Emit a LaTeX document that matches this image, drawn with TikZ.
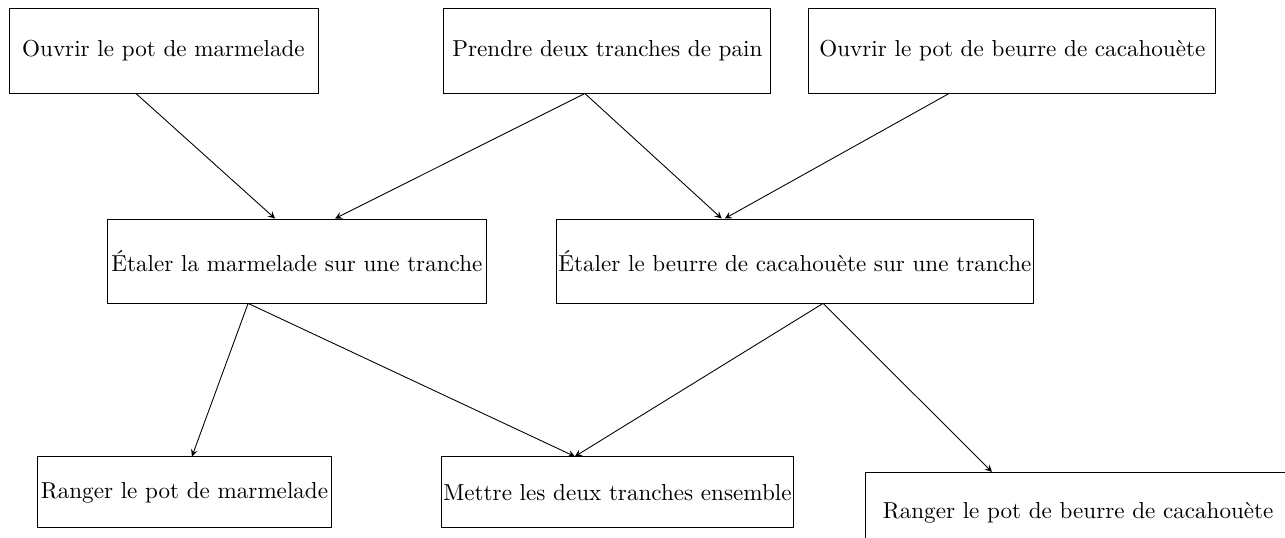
\documentclass[tikz,border=0pt]{standalone}
\usepackage{tikz}
\usetikzlibrary{arrows}

\tikzset{etape/.style={draw, rectangle, inner sep=0.8pt, minimum height=1.358cm, font=\fontsize{10.5pt}{12.6pt}\selectfont}}

\begin{document}
\begin{tikzpicture}
\useasboundingbox (0,0) rectangle (20.53,-8.594);

\node[etape, minimum width=4.936cm] (ouvrirM) at (2.612,-0.807) {Ouvrir le pot de marmelade};
\node[etape, minimum width=5.224cm] (pain) at (9.704,-0.807) {Prendre deux tranches de pain};
\node[etape, minimum width=6.502cm] (ouvrirB) at (16.174,-0.807) {Ouvrir le pot de beurre de cacahouète};

\node[etape, minimum width=6.07cm, minimum height=1.342cm] (etalerM) at (4.744,-4.169) {Étaler la marmelade sur une tranche};
\node[etape, minimum width=7.636cm, minimum height=1.342cm] (etalerB) at (12.70,-4.169) {Étaler le beurre de cacahouète sur une tranche};

\node[etape, minimum width=4.712cm, minimum height=1.134cm] (rangerM) at (2.947,-7.867) {Ranger le pot de marmelade};
\node[etape, minimum width=5.543cm, minimum height=1.134cm] (ensemble) at (9.864,-7.867) {Mettre les deux tranches ensemble};
\node[etape, anchor=north west, minimum width=6.8cm, minimum height=1.3cm] (rangerB) at (13.818,-7.54) {Ranger le pot de beurre de cacahouète};

% premiere rangee
\draw[-stealth] ([xshift=-0.44cm]ouvrirM.south) -- ([xshift=-0.35cm]etalerM.north);
\draw[-stealth] ([xshift=-0.36cm]pain.south) -- ([xshift=0.61cm]etalerM.north);
\draw[-stealth] ([xshift=-0.36cm]pain.south) -- ([xshift=-1.17cm]etalerB.north);
\draw[-stealth] ([xshift=-1.01cm]ouvrirB.south) -- ([xshift=-1.12cm]etalerB.north);

% deuxieme rangee
\draw[-stealth] ([xshift=-0.78cm]etalerM.south) -- ([xshift=0.12cm]rangerM.north);
\draw[-stealth] ([xshift=-0.78cm]etalerM.south) -- ([xshift=-0.68cm]ensemble.north);
\draw[-stealth] ([xshift=0.45cm]etalerB.south) -- ([xshift=-0.68cm]ensemble.north);
\draw[-stealth] ([xshift=0.45cm]etalerB.south) -- ([xshift=2.03cm]rangerB.north west);

\end{tikzpicture}
\end{document}
